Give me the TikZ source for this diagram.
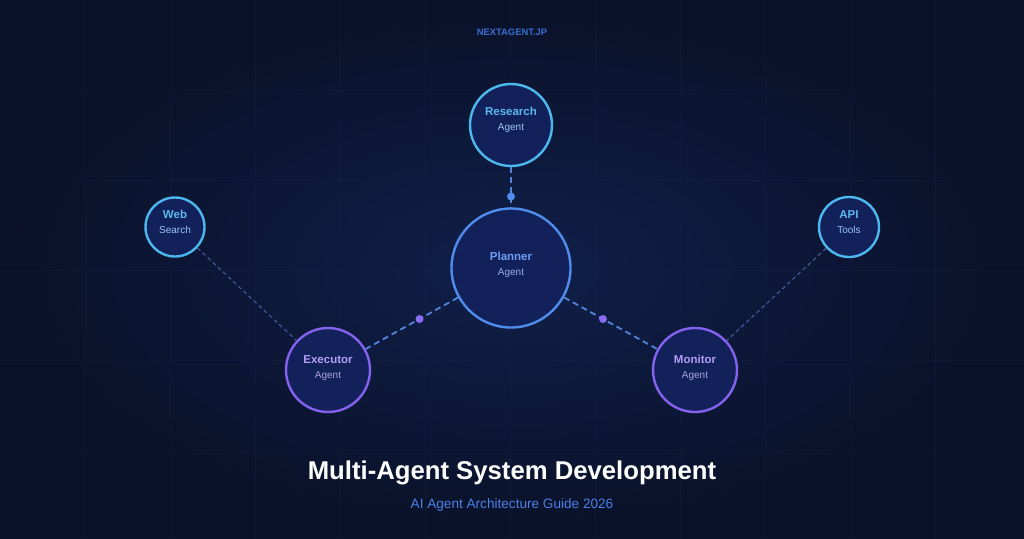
\documentclass[tikz,border=0pt]{standalone}
\usepackage{fontspec}
\setmainfont{Liberation Sans}
\usetikzlibrary{calc}

\definecolor{bgdark}{HTML}{0A1128}
\definecolor{bglight}{HTML}{10204A}
\definecolor{gridc}{HTML}{16244C}
\definecolor{nodefill}{HTML}{12215A}
\definecolor{cyanring}{HTML}{4CB8EE}
\definecolor{bluering}{HTML}{4F8CEC}
\definecolor{purpring}{HTML}{8462EE}
\definecolor{cyantext}{HTML}{5CB8F0}
\definecolor{cyansub}{HTML}{98C6EE}
\definecolor{bluetext}{HTML}{6F9EF5}
\definecolor{bluesub}{HTML}{93B0EA}
\definecolor{purptext}{HTML}{B49EF6}
\definecolor{purpsub}{HTML}{AAA4D8}
\definecolor{linkc}{HTML}{5384DC}
\definecolor{faintlink}{HTML}{4A5EA8}
\definecolor{dotpurp}{HTML}{8A6CF0}
\definecolor{brandc}{HTML}{3B6FCF}
\definecolor{subtitlec}{HTML}{4A80E8}

\newcommand{\agtext}[4]{{\color{#1}\bfseries\fontsize{11.5}{14}\selectfont #3}\\[3pt]{\color{#2}\fontsize{10}{12}\selectfont #4}}

\begin{document}
\begin{tikzpicture}[x=1pt, y=-1pt,
  agent/.style={circle, draw, line width=2.4pt, fill=nodefill, inner sep=0pt},
  lbl/.style={align=center, inner sep=0pt},
  link/.style={draw=linkc, line width=1.8pt, dash pattern=on 6pt off 4pt},
  faint/.style={draw=faintlink, line width=1pt, dash pattern=on 4pt off 3pt},
  joint/.style={circle, inner sep=0pt, minimum size=8pt}]

\useasboundingbox (0,0) rectangle (1024,538);
\fill[bgdark] (0,0) rectangle (1024,538);
\shade[inner color=bglight, outer color=bgdark] (0,0) rectangle (1024,538);

% faint grid, spacing guessed from the corners
\foreach \gx in {85,170,...,1000} \draw[gridc, line width=.6pt, opacity=.35] (\gx,0) -- (\gx,538);
\foreach \gy in {90,180,...,530} \draw[gridc, line width=.6pt, opacity=.35] (0,\gy) -- (1024,\gy);

\node[text=brandc, font=\bfseries\fontsize{9.4}{11}\selectfont] (brand) at (512,32) {NEXTAGENT.JP};

\node[agent, draw=bluering, minimum size=119pt,
  label={[lbl, yshift=3pt]center:\agtext{bluetext}{bluesub}{Planner}{Agent}}] (planner) at (511,268) {};
\node[agent, draw=cyanring, minimum size=82pt,
  label={[lbl, yshift=5pt]center:\agtext{cyantext}{cyansub}{Research}{Agent}}] (research) at (511,125) {};
\node[agent, draw=purpring, minimum size=84pt,
  label={[lbl, yshift=2pt]center:\agtext{purptext}{purpsub}{Executor}{Agent}}] (executor) at (328,370) {};
\node[agent, draw=purpring, minimum size=84pt,
  label={[lbl, yshift=2pt]center:\agtext{purptext}{purpsub}{Monitor}{Agent}}] (monitor) at (695,370) {};
\node[agent, draw=cyanring, minimum size=59pt,
  label={[lbl, yshift=5pt]center:\agtext{cyantext}{cyansub}{Web}{Search}}] (web) at (175,227) {};
\node[agent, draw=cyanring, minimum size=60pt,
  label={[lbl, yshift=5pt]center:\agtext{cyantext}{cyansub}{API}{Tools}}] (api) at (849,227) {};

\draw[link] (research) -- (planner);
\draw[link] (planner) -- (executor);
\draw[link] (planner) -- (monitor);
\draw[faint] (web) -- (executor);
\draw[faint] (api) -- (monitor);

\node[joint, fill=bluering] (j1) at ($(research)!.5!(planner)$) {};
\node[joint, fill=dotpurp] (j2) at ($(planner)!.5!(executor)$) {};
\node[joint, fill=dotpurp] (j3) at ($(planner)!.5!(monitor)$) {};

\node[text=white, font=\bfseries\fontsize{25.7}{30}\selectfont] (title) at (512,473) {Multi-Agent System Development};
\node[text=subtitlec, font=\fontsize{13.6}{16}\selectfont] (subtitle) at (512,505) {AI Agent Architecture Guide 2026};

\end{tikzpicture}
\end{document}
